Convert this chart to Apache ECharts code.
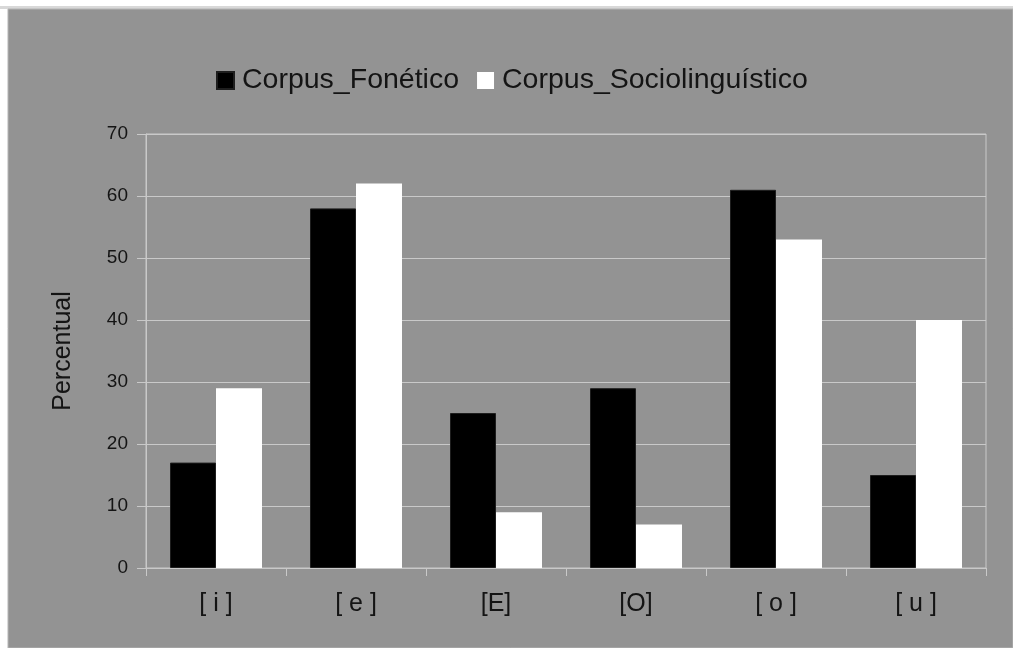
<!DOCTYPE html>
<html>
<head>
<meta charset="utf-8">
<title>Corpus Fonético x Corpus Sociolinguístico</title>
<script src="https://cdn.jsdelivr.net/npm/echarts@6/dist/echarts.min.js"></script>
<style>
  html, body { margin: 0; padding: 0; background: #ffffff; }
  #chart { width: 1013px; height: 648px; }
</style>
</head>
<body>
<div id="chart"></div>
<script>
// Vowel categories and percentages for each corpus
const categories = ['[ i ]', '[ e ]', '[E]', '[O]', '[ o ]', '[ u ]'];
const seriesNames = ['Corpus_Fonético', 'Corpus_Sociolinguístico'];
const fonetico = [17, 58, 25, 29, 61, 15];
const sociolinguistico = [29, 62, 9, 7, 53, 40];
const yTicks = { min: 0, max: 70, interval: 10 };

const FONT = '"Liberation Sans", Arial, sans-serif';
const PANEL = '#939393';
const RULE = '#c9c9c9';
const INK = '#141414';

const chart = echarts.init(document.getElementById('chart'), null, { renderer: 'canvas' });

chart.setOption({
  backgroundColor: '#ffffff',
  animation: false,
  graphic: [
    {
      type: 'rect', z: -10, silent: true,
      shape: { x: 0, y: 6, width: 1013, height: 3 },
      style: { fill: '#d8d8d8' }
    },
    {
      type: 'rect', z: -10, silent: true,
      shape: { x: 8, y: 9, width: 1005, height: 639 },
      style: { fill: PANEL, stroke: '#b5b5b5', lineWidth: 1 }
    }
  ],
  legend: {
    top: 61,
    left: 211,
    itemWidth: 17,
    itemHeight: 17,
    itemGap: 18,
    icon: 'rect',
    textStyle: { fontFamily: FONT, fontSize: 28.5, color: INK, padding: [0, 0, 0, 3] },
    data: seriesNames
  },
  grid: {
    left: 146, right: 27, top: 134, bottom: 80,
    show: true,
    borderColor: RULE,
    borderWidth: 1,
    backgroundColor: 'transparent'
  },
  xAxis: {
    type: 'category',
    data: categories,
    axisLine: { lineStyle: { color: RULE, width: 1 } },
    axisTick: { show: true, length: 8, lineStyle: { color: RULE } },
    axisLabel: { fontFamily: FONT, fontSize: 25, color: INK, margin: 24 },
    splitLine: { show: false }
  },
  yAxis: {
    type: 'value',
    min: yTicks.min, max: yTicks.max, interval: yTicks.interval,
    name: 'Percentual',
    nameLocation: 'middle',
    nameGap: 70,
    nameRotate: 90,
    nameTextStyle: { fontFamily: FONT, fontSize: 25, color: INK },
    axisLine: { show: true, lineStyle: { color: RULE, width: 1 } },
    axisTick: { show: true, length: 9, lineStyle: { color: RULE } },
    axisLabel: { fontFamily: FONT, fontSize: 19, color: INK, margin: 18 },
    splitLine: { show: true, lineStyle: { color: RULE, width: 1 } }
  },
  series: [
    {
      name: seriesNames[0],
      type: 'bar',
      data: fonetico,
      barWidth: 46,
      barGap: '0%',
      itemStyle: { color: '#000000', borderColor: '#1e1e1e', borderWidth: 1 }
    },
    {
      name: seriesNames[1],
      type: 'bar',
      data: sociolinguistico,
      barWidth: 46,
      barGap: '0%',
      itemStyle: { color: '#ffffff' }
    }
  ]
});
</script>
</body>
</html>
